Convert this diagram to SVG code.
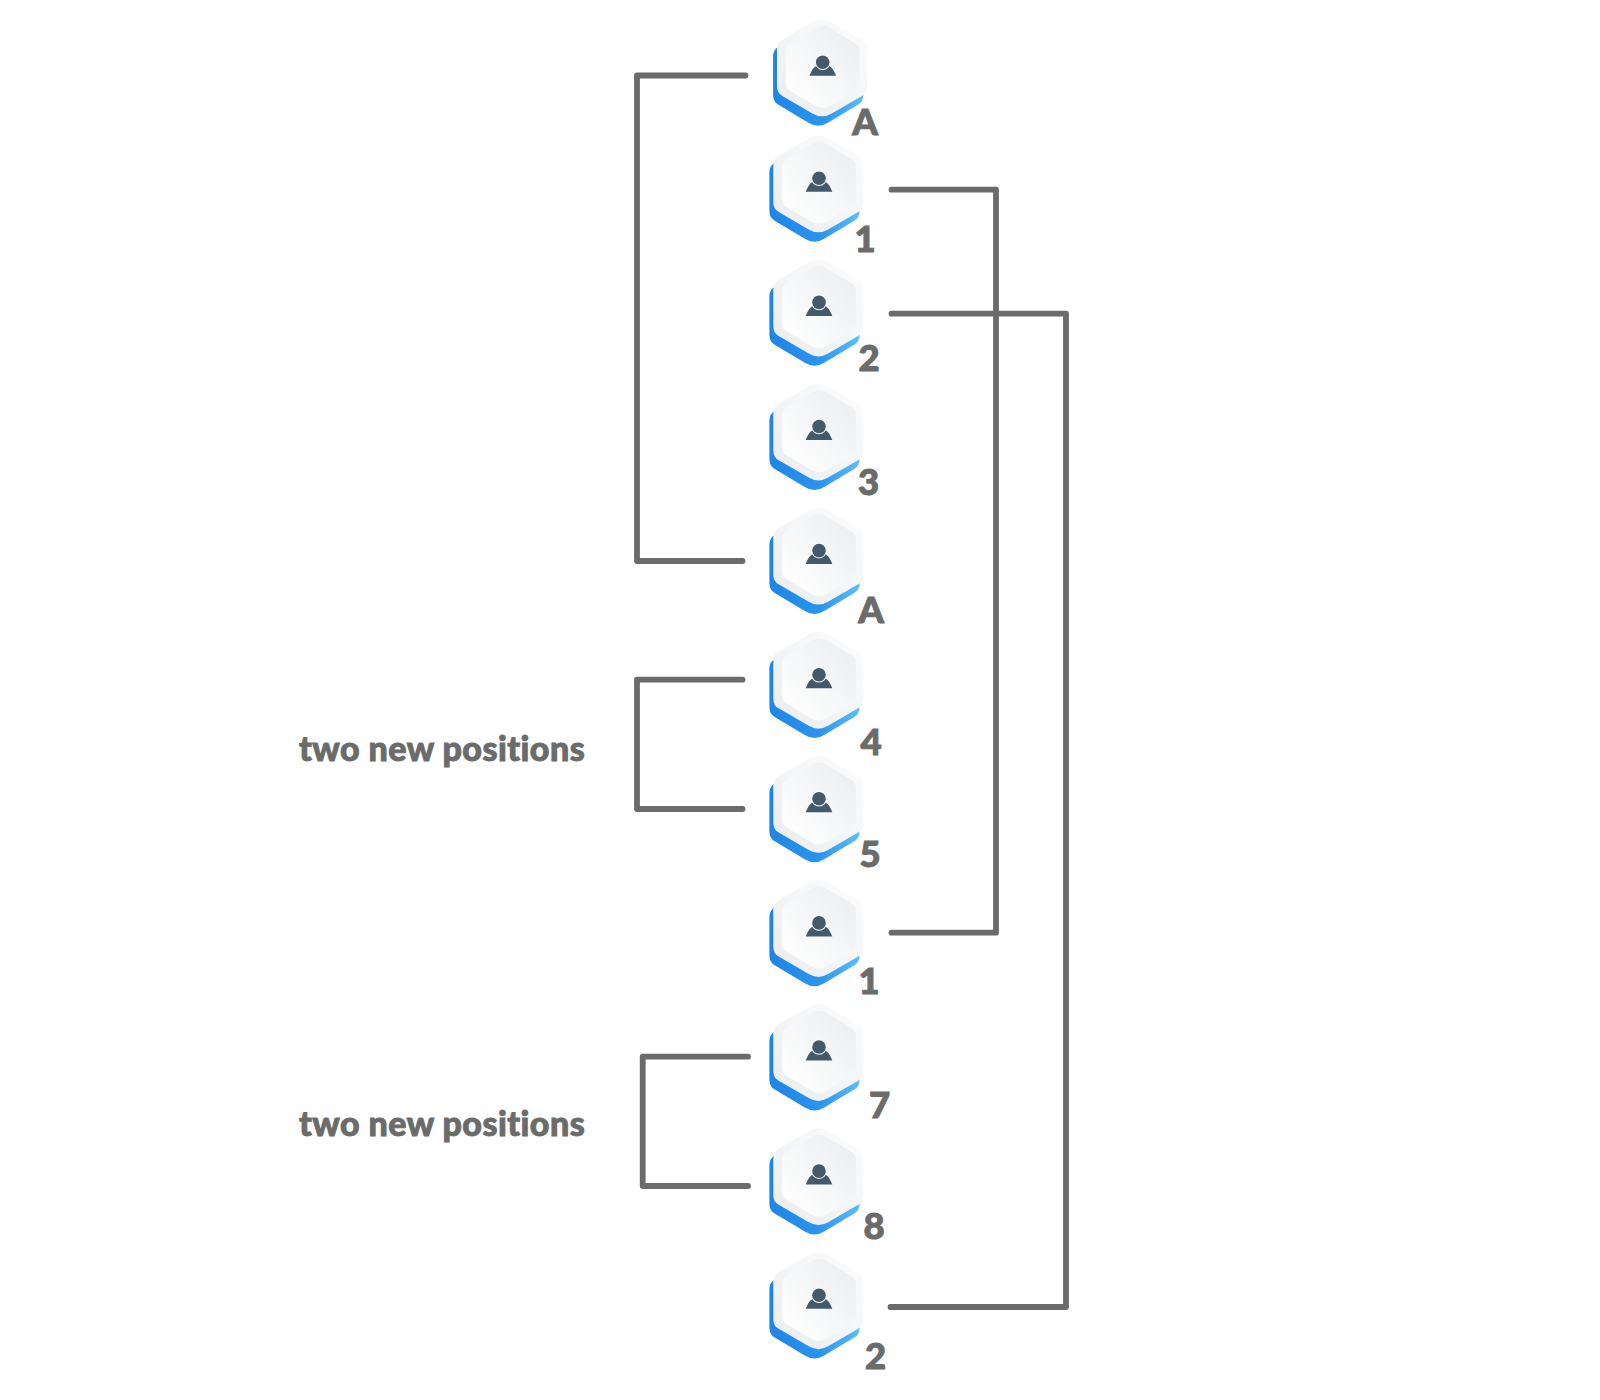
<svg xmlns="http://www.w3.org/2000/svg" xmlns:xlink="http://www.w3.org/1999/xlink" width="1600" height="1400" viewBox="0 0 1600 1400">
<style>
.conn{fill:none;stroke:#6b6b6b;stroke-width:5.800;stroke-linecap:round;stroke-linejoin:round}
.num{font-family:"Lato","Liberation Sans",sans-serif;font-weight:900;font-size:36.500px;fill:#6b6b6b;stroke:#6b6b6b;stroke-width:1;text-anchor:middle}
.cap{font-family:"Lato","Liberation Sans",sans-serif;font-weight:900;font-size:34px;letter-spacing:.45px;font-variant-ligatures:none;fill:#6b6b6b;stroke:#6b6b6b;stroke-width:.9}
</style>
<defs>
<linearGradient id="gb" x1="0" y1="0.6" x2="1" y2="0.8"><stop offset="0" stop-color="#1e84e6"/><stop offset="0.6" stop-color="#2a94ee"/><stop offset="1" stop-color="#5cc0f7"/></linearGradient>
<linearGradient id="go" x1="0" y1="1" x2="1" y2="0"><stop offset="0" stop-color="#e9ebee"/><stop offset="0.5" stop-color="#f4f5f6"/><stop offset="1" stop-color="#fdfdfe"/></linearGradient>
<linearGradient id="gi" x1="0.1" y1="0.9" x2="0.9" y2="0.1"><stop offset="0" stop-color="#ffffff"/><stop offset="1" stop-color="#eceef0"/></linearGradient>
<path id="hex" d="M-10-47Q0-53 10-47L41-29Q46.500-26 46.500-19L46.500 19Q46.500 26 41 29L10 47Q0 53-10 47L-41 29Q-46.500 26-46.500 19L-46.500-19Q-46.500-26-41-29Z"/>
<g id="avatar">
<use href="#hex" fill="url(#gb)" transform="translate(-4.500 13.400) scale(.97 1)"/>
<use href="#hex" fill="url(#go)" transform="translate(-0.600 5.500) scale(.97 .97)"/>
<use href="#hex" fill="url(#gi)" transform="translate(-0.100 4.700) scale(.795 .82)"/>
<path d="M-13.300 13.500C-11 8-9 4-4 3H4C9 4 11 8 13.300 13.500Z" fill="#44596a"/>
<circle r="7.800" fill="#fafbfb"/>
<circle r="6.800" fill="#44596a"/>
</g>
</defs>
<rect width="1600" height="1400" fill="#ffffff"/>
<g id="connectors" class="conn">
<path d="M745.500 75.500H637V561H742.500"/>
<path d="M742.500 679.700H637V809H742.500"/>
<path d="M748 1056.700H642.700V1186H748"/>
<path d="M891.500 189.700H996V932.700H891.500"/>
<path d="M891.500 313.700H1066V1307H890.500"/>
</g>
<g id="node-a1"><use href="#avatar" x="822.700" y="62.300"/><text class="num" x="865" y="135">A</text></g>
<g id="node-1a"><use href="#avatar" x="819" y="178.300"/><text class="num" x="865" y="251.500">1</text></g>
<g id="node-2a"><use href="#avatar" x="819" y="302.400"/><text class="num" x="869" y="371">2</text></g>
<g id="node-3"><use href="#avatar" x="819" y="426.500"/><text class="num" x="868.500" y="495">3</text></g>
<g id="node-a2"><use href="#avatar" x="819" y="550.600"/><text class="num" x="871" y="623">A</text></g>
<g id="node-4"><use href="#avatar" x="819" y="674.700"/><text class="num" x="871" y="754.500">4</text></g>
<g id="node-5"><use href="#avatar" x="819" y="798.800"/><text class="num" x="870" y="866.500">5</text></g>
<g id="node-1b"><use href="#avatar" x="819" y="922.900"/><text class="num" x="869" y="994">1</text></g>
<g id="node-7"><use href="#avatar" x="819" y="1047"/><text class="num" x="879.500" y="1118">7</text></g>
<g id="node-8"><use href="#avatar" x="819" y="1171.100"/><text class="num" x="874" y="1239">8</text></g>
<g id="node-2b"><use href="#avatar" x="819" y="1295.200"/><text class="num" x="875.500" y="1368.500">2</text></g>
<g id="captions">
<text class="cap" x="299" y="761">two new positions</text>
<text class="cap" x="299" y="1136">two new positions</text>
</g>
</svg>
